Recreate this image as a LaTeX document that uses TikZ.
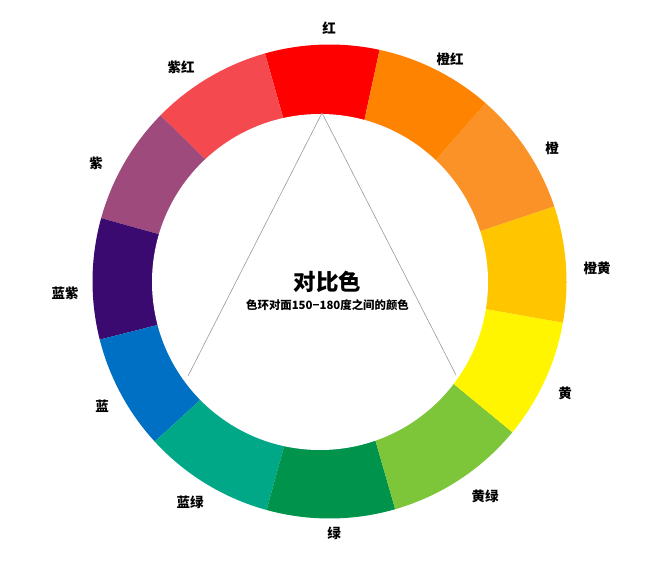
\documentclass[tikz,border=0pt]{standalone}
\usepackage{fontspec}
\newfontfamily\cjk{Noto Sans CJK SC}
\definecolor{cRed}{HTML}{FF0000}
\definecolor{cOrangeRed}{HTML}{FE8300}
\definecolor{cOrange}{HTML}{FB9228}
\definecolor{cOrangeYellow}{HTML}{FFC600}
\definecolor{cYellow}{HTML}{FFF500}
\definecolor{cYellowGreen}{HTML}{7DC63A}
\definecolor{cGreen}{HTML}{00934B}
\definecolor{cBlueGreen}{HTML}{00A887}
\definecolor{cBlue}{HTML}{0070C4}
\definecolor{cBlueViolet}{HTML}{3A0A70}
\definecolor{cViolet}{HTML}{9E4A7C}
\definecolor{cRedViolet}{HTML}{F4494F}
\tikzset{
  lbl/.style={font=\cjk\bfseries\fontsize{13.5}{15}\selectfont, text=black, inner sep=0pt},
  ttl/.style={font=\cjk\bfseries\fontsize{22.5}{25}\selectfont, text=black, inner sep=0pt},
  sub/.style={font=\cjk\bfseries\fontsize{11.4}{13}\selectfont, text=black, inner sep=0pt},
  tri/.style={draw=gray!80, line width=0.6pt}
}
\newcommand{\seg}[3]{\fill[#3] (O) -- ++(#1:237) arc[start angle=#1, end angle=#2, radius=237] -- cycle;}
\begin{document}
\begin{tikzpicture}[x=1pt,y=1pt]
\useasboundingbox (0,0) rectangle (658,563);
\coordinate (O) at (329.5,281.5);
\coordinate (I) at (320,281);
\seg{77.8}{105.8}{cRed}
\seg{105.8}{135.5}{cRedViolet}
\seg{135.5}{164.5}{cViolet}
\seg{164.5}{194.2}{cBlueViolet}
\seg{194.2}{222.5}{cBlue}
\seg{222.5}{254.6}{cBlueGreen}
\seg{254.6}{286.1}{cGreen}
\seg{286.1}{320.5}{cYellowGreen}
\seg{320.5}{350}{cYellow}
\seg{350}{378.5}{cOrangeYellow}
\seg{18.5}{48.8}{cOrange}
\seg{48.8}{77.8}{cOrangeRed}
\fill[white] (I) circle[radius=168];
\coordinate (apex) at (322,450);
\coordinate (bl) at (188,187);
\coordinate (br) at (456,188);
\draw[tri] (bl) -- (apex) -- (br);
\node[ttl] (title) at (327.5,281) {对比色};
\node[sub] (subtitle) at (327.5,258) {色环对面150−180度之间的颜色};
\node[lbl] (lRed) at (329,535) {红};
\node[lbl] (lRedViolet) at (181,496) {紫红};
\node[lbl] (lOrangeRed) at (450,504) {橙红};
\node[lbl] (lOrange) at (552,415) {橙};
\node[lbl] (lOrangeYellow) at (597,295) {橙黄};
\node[lbl] (lYellow) at (565,170) {黄};
\node[lbl] (lYellowGreen) at (485,67) {黄绿};
\node[lbl] (lGreen) at (334,30) {绿};
\node[lbl] (lBlueGreen) at (190,61) {蓝绿};
\node[lbl] (lBlue) at (102,157) {蓝};
\node[lbl] (lBlueViolet) at (65,270) {蓝紫};
\node[lbl] (lViolet) at (96,400) {紫};
\end{tikzpicture}
\end{document}
